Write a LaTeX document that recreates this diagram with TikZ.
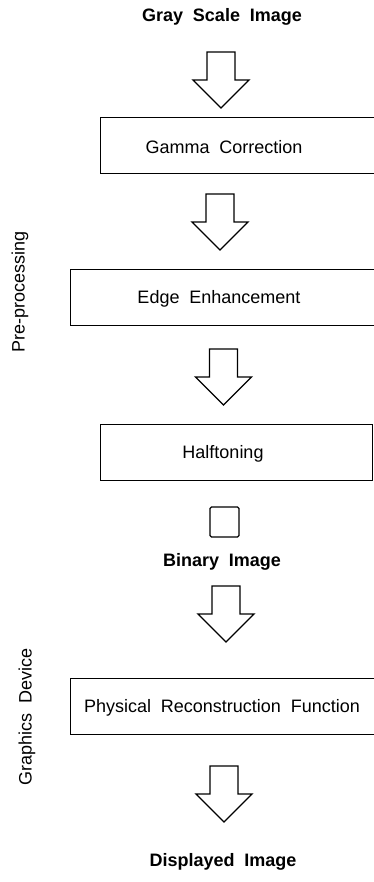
\documentclass[tikz,border=0pt]{standalone}
\usepackage{fontspec}
\setmainfont{Liberation Sans}
\newcommand{\widesp}{\spaceskip 0.55em plus 0.1em\relax}
\newcommand{\downblock}[2]{%
  \draw[blk] (#1-14,#2) -- (#1+14,#2) -- (#1+14,#2+28) -- (#1+28,#2+28)
    -- (#1,#2+56) -- (#1-28,#2+28) -- (#1-14,#2+28) -- cycle;}
\begin{document}
\begin{tikzpicture}[x=1pt,y=-1pt,
  txt/.style={inner sep=0pt, font={\fontsize{18}{20}\selectfont\widesp}},
  headtxt/.style={inner sep=0pt, font={\fontsize{18}{20}\selectfont\bfseries\widesp}},
  sidetxt/.style={txt, rotate=90},
  stage/.style={draw, line width=1.3pt, minimum height=56pt, minimum width=330pt,
    anchor=north west, inner sep=0pt},
  blk/.style={draw, line width=1.3pt, line join=miter, fill=white}]
  \useasboundingbox (0,0) rectangle (374,882);
  \clip (0,0) rectangle (374,882);

  % titles of the image states
  \node[headtxt] (gray) at (222,17) {Gray Scale Image};
  \node[headtxt] (binary) at (222,562) {Binary Image};
  \node[headtxt] (shown) at (223,862) {Displayed Image};

  % processing stages (most boxes run off the right edge)
  \node[stage] (gammabox) at (100,117) {};
  \node[txt] (gamma) at (224,147) {Gamma Correction};
  \node[stage] (edgebox) at (70,269) {};
  \node[txt] (edge) at (219,299) {Edge Enhancement};
  \node[stage, minimum width=272pt] (halfbox) at (100,424) {};
  \node[txt] (half) at (223,454) {Halftoning};
  \node[stage] (physbox) at (70,678) {};
  \node[txt] (phys) at (222,708) {Physical Reconstruction Function};

  % pixel symbol of the binary image
  \node[draw, line width=1.3pt, rounded corners=1.5pt, minimum width=29pt,
    minimum height=30pt, inner sep=0pt] (pixel) at (224.5,522) {};

  % block arrows between the stages
  \downblock{221}{52}
  \downblock{220}{194}
  \downblock{223.5}{349}
  \downblock{226}{586}
  \downblock{224}{766}

  % group labels
  \node[sidetxt] (pre) at (20,292) {Pre-processing};
  \node[sidetxt] (dev) at (27,717) {Graphics Device};
\end{tikzpicture}
\end{document}
